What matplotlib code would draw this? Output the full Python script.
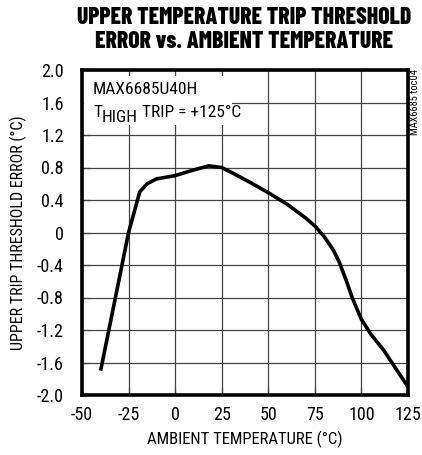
import matplotlib
matplotlib.use("Agg")
import matplotlib.pyplot as plt
from matplotlib.transforms import offset_copy
from matplotlib.patches import Rectangle

temps = [-40, -25, -19, -15, -10, 0, 10, 18, 25, 31, 40, 50, 60, 70, 75, 80, 85, 88, 92, 95, 100, 105, 112, 118, 125]
errors = [-1.7, 0.0, 0.5, 0.6, 0.66, 0.7, 0.77, 0.82, 0.8, 0.73, 0.62, 0.49, 0.35, 0.18, 0.08, -0.05, -0.22, -0.36, -0.6, -0.8, -1.07, -1.25, -1.45, -1.66, -1.9]
xticks = [-50, -25, 0, 25, 50, 75, 100, 125]
yticks = [2.0, 1.6, 1.2, 0.8, 0.4, 0, -0.4, -0.8, -1.2, -1.6, -2.0]
ylabels = ["2.0", "1.6", "1.2", "0.8", "0.4", "0", "-0.4", "-0.8", "-1.2", "-1.6", "-2.0"]

body = ['Roboto Condensed', 'Archivo Narrow', 'Barlow Semi Condensed', 'DejaVu Sans']
plt.rcParams['font.family'] = body

fig = plt.figure(figsize=(4.22, 4.55), dpi=100)
ax = fig.add_axes([82/422, 1-395/455, 326/422, 325/455])
ax.plot(temps, errors, color='black', lw=2.6, solid_capstyle='butt', zorder=3)
ax.set_xlim(-50, 125)
ax.set_ylim(-2.0, 2.0)
ax.set_xticks(xticks)
ax.set_xticklabels([str(t) for t in xticks], fontsize=13)
ax.set_yticks(yticks)
ax.set_yticklabels(ylabels, fontsize=13)
ax.grid(True, color='#444444', lw=0.9)
ax.set_axisbelow(True)
ax.tick_params(direction='in', length=6, width=0.9, color='#444444')
ax.tick_params(axis='x', pad=8)
ax.tick_params(axis='y', pad=13)
for s in ax.spines.values():
    s.set_linewidth(2.6)
ax.set_xlabel('AMBIENT TEMPERATURE (°C)', fontsize=12, labelpad=5)
ax.set_ylabel('UPPER TRIP THRESHOLD ERROR (°C)', fontsize=11.5, labelpad=7)

# white box behind annotation (hides gridlines there)
ax.add_patch(Rectangle((0.006, 0.83), 0.454, 0.152, transform=ax.transAxes,
                       facecolor='white', edgecolor='none', zorder=1.5))

fs = 12.5
ax.text(0.034, 0.962, 'MAX6685U40H', transform=ax.transAxes,
        fontsize=fs, va='top', ha='left', zorder=2)
renderer = fig.canvas.get_renderer()
by = 0.855
t1 = ax.text(0.034, by, 'T', transform=ax.transAxes, fontsize=fs, va='baseline', ha='left', zorder=2)
w1 = t1.get_window_extent(renderer).width
t2 = ax.text(0.034, by, 'HIGH', fontsize=fs, va='baseline', ha='left', zorder=2,
             transform=offset_copy(ax.transAxes, fig=fig, x=w1, y=-5, units='dots'))
w2 = t2.get_window_extent(renderer).width
ax.text(0.034, by, ' TRIP = +125°C', fontsize=fs, va='baseline', ha='left', zorder=2,
        transform=offset_copy(ax.transAxes, fig=fig, x=w1 + w2, y=0, units='dots'))

fig.text(244/422, 1-7/455, 'UPPER TEMPERATURE TRIP THRESHOLD\nERROR vs. AMBIENT TEMPERATURE',
         ha='center', va='top', fontsize=17, fontweight=800, linespacing=1.12,
         family=['Barlow Condensed', 'Roboto Condensed', 'DejaVu Sans'])
fig.text(415/422, 1-69/455, 'MAX6685 toc04', rotation=90, ha='center', va='top', fontsize=7.5)

fig.savefig('out.png', dpi=100)
